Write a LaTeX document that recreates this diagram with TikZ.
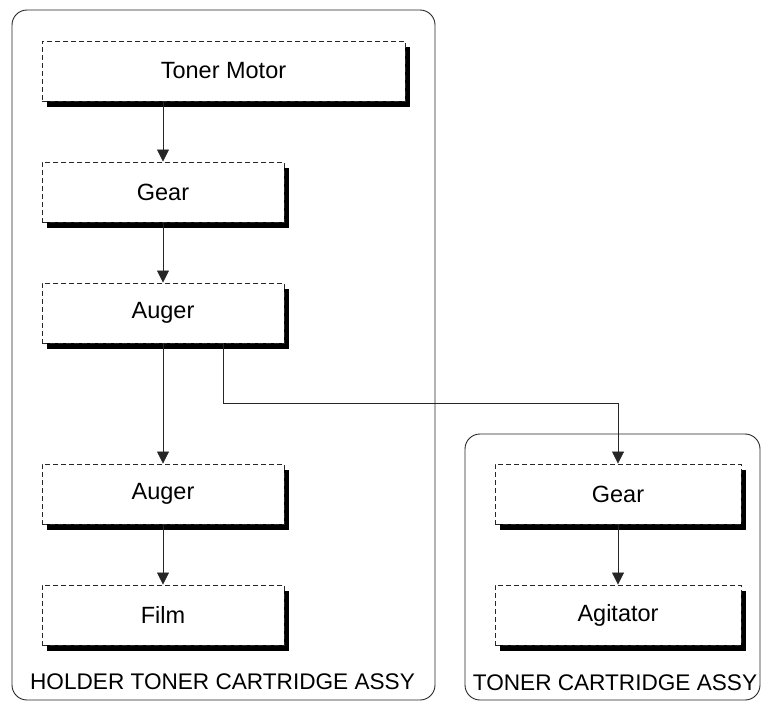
\documentclass[tikz,border=0pt]{standalone}
\usepackage{fontspec}
\setmainfont{Liberation Sans}
\usetikzlibrary{arrows.meta,shadows}

\begin{document}
\begin{tikzpicture}[x=1pt,y=-1pt,>={Triangle[length=12pt,width=12pt]},
  part/.style={draw=black!85,dash pattern=on 5pt off 3pt,line width=0.9pt,fill=white,
    minimum height=60pt,minimum width=242pt,inner sep=0pt,font=\fontsize{23.5}{27}\selectfont,
    drop shadow={shadow xshift=5pt,shadow yshift=-6pt,fill=black,opacity=1}},
  assy/.style={draw=black!85,line width=0.9pt,rounded corners=15pt,inner sep=0pt},
  assytext/.style={font=\fontsize{22.6}{26}\selectfont},
  link/.style={->,draw=black!85,line width=0.8pt}]
\useasboundingbox (0,0) rectangle (761,702);
% containers
\node[assy,minimum width=423pt,minimum height=690pt] (holder) at (223.5,355) {};
\node[assy,minimum width=295pt,minimum height=266pt] (cart) at (612.5,567) {};
\node[assytext] (holdertxt) at (222.5,682) {HOLDER TONER CARTRIDGE ASSY};
\node[assytext] (carttxt) at (615,683) {TONER CARTRIDGE ASSY};
% parts
\node[part,minimum width=363pt] (motor) at (223.5,71) {Toner Motor};
\node[part] (gearA) at (163,192) {Gear};
\node[part] (augA) at (163,313) {Auger};
\node[part] (augB) at (163,494) {Auger};
\node[part] (film) at (163,615) {Film};
\node[part,minimum width=246pt] (gearB) at (618,494) {Gear};
\node[part,minimum width=246pt] (agit) at (618,615) {Agitator};
\coordinate (bend) at (618,403);
% drive train
\draw[link] (motor.south -| gearA.north) -- (gearA.north);
\draw[link] (gearA.south) -- (augA.north);
\draw[link] (augA.south) -- (augB.north);
\draw[link] (augB.south) -- (film.north);
\draw[link] ([xshift=60pt]augA.south) |- (bend) -- (gearB.north);
\draw[link] (gearB.south) -- (agit.north);
\end{tikzpicture}
\end{document}
